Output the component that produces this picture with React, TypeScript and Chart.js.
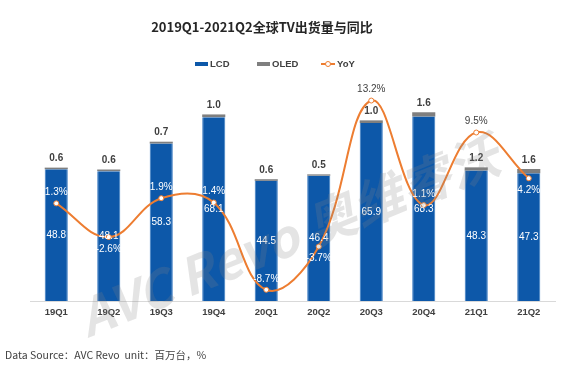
import { useEffect, useRef } from 'react';
import { Chart, registerables } from 'chart.js';

Chart.register(...registerables);

const categories = ['19Q1', '19Q2', '19Q3', '19Q4', '20Q1', '20Q2', '20Q3', '20Q4', '21Q1', '21Q2'];
const lcdValues = [48.8, 48.1, 58.3, 68.1, 44.5, 46.4, 65.9, 68.3, 48.3, 47.3];
const oledValues = [0.6, 0.6, 0.7, 1.0, 0.6, 0.5, 1.0, 1.6, 1.2, 1.6];
const yoyValues = [1.3, -2.6, 1.9, 1.4, -8.7, -3.7, 13.2, 1.1, 9.5, 4.2];

const titleText = '2019Q1-2021Q2全球TV出货量与同比';
const footerText = 'Data Source：AVC Revo  unit：百万台，%';
const watermarkText = 'AVC Revo 奥维睿沃';

// label placement for YoY values (true = below the point)
const yoyBelow = [false, true, false, false, false, true, false, false, false, true];

const BLUE = '#0D58A9';
const GRAY = '#7F7F7F';
const ORANGE = '#ED7D31';
const DARK = '#404040';
const LATIN = '"Liberation Sans", Arial, sans-serif';
const CJK = '"Noto Sans CJK SC", "Liberation Sans", sans-serif';

const decorPlugin = {
  id: 'decor',
  afterDatasetsDraw(chart: any) {
    const ctx = chart.ctx;
    const lcdMeta = chart.getDatasetMeta(0);
    const oledMeta = chart.getDatasetMeta(1);
    const yoyMeta = chart.getDatasetMeta(2);
    ctx.save();
    ctx.textAlign = 'center';
    ctx.textBaseline = 'middle';
    categories.forEach((_, i) => {
      const lcdBar = lcdMeta.data[i];
      const oledBar = oledMeta.data[i];
      ctx.font = `10px ${LATIN}`;
      ctx.fillStyle = '#FFFFFF';
      ctx.fillText(lcdValues[i].toFixed(1), lcdBar.x, (lcdBar.y + lcdBar.base) / 2);
      ctx.font = `bold 10px ${LATIN}`;
      ctx.fillStyle = DARK;
      ctx.fillText(oledValues[i].toFixed(1), oledBar.x, oledBar.y - 9);
      const pt = yoyMeta.data[i];
      const ly = yoyBelow[i] ? pt.y + 12 : pt.y - 11;
      const inside = ly > oledBar.y + 4;
      ctx.font = `10px ${LATIN}`;
      ctx.fillStyle = inside ? '#FFFFFF' : DARK;
      ctx.fillText(yoyValues[i].toFixed(1) + '%', pt.x, ly);
    });
    ctx.restore();
  },
  afterDraw(chart: any) {
    const ctx = chart.ctx;
    ctx.save();
    ctx.textAlign = 'center';
    ctx.textBaseline = 'middle';
    ctx.fillStyle = '#262626';
    ctx.font = `bold 13px ${CJK}`;
    ctx.fillText(titleText, 262, 27);

    ctx.textAlign = 'left';
    ctx.font = `bold 9.5px ${LATIN}`;
    const ly = 64;
    ctx.fillStyle = BLUE;
    ctx.fillRect(195, ly - 2, 13, 4);
    ctx.fillStyle = DARK;
    ctx.fillText('LCD', 210, ly);
    ctx.fillStyle = GRAY;
    ctx.fillRect(257, ly - 2, 13, 4);
    ctx.fillStyle = DARK;
    ctx.fillText('OLED', 272, ly);
    ctx.strokeStyle = ORANGE;
    ctx.lineWidth = 2;
    ctx.beginPath();
    ctx.moveTo(321, ly);
    ctx.lineTo(335, ly);
    ctx.stroke();
    ctx.fillStyle = '#FFFFFF';
    ctx.lineWidth = 1;
    ctx.beginPath();
    ctx.arc(328, ly, 2.5, 0, Math.PI * 2);
    ctx.fill();
    ctx.stroke();
    ctx.fillStyle = DARK;
    ctx.fillText('YoY', 337, ly);

    ctx.font = `10.5px ${CJK}`;
    ctx.fillStyle = DARK;
    ctx.fillText(footerText, 5, 355);

    ctx.translate(88, 338);
    ctx.rotate((-22 * Math.PI) / 180);
    ctx.font = `bold italic 51px ${CJK}`;
    ctx.fillStyle = 'rgba(130,130,130,0.22)';
    ctx.textBaseline = 'alphabetic';
    ctx.fillText(watermarkText, 0, 0);
    ctx.restore();
  },
};

export default function App() {
  const ref = useRef<HTMLCanvasElement | null>(null);
  useEffect(() => {
    if (!ref.current) return;
    const chart = new Chart(ref.current, {
      type: 'bar',
      data: {
        labels: categories,
        datasets: [
          {
            type: 'bar',
            label: 'LCD',
            data: lcdValues,
            backgroundColor: BLUE,
            borderColor: '#3C7CC2',
            borderWidth: { left: 1, right: 1, top: 0, bottom: 0 },
            yAxisID: 'y',
            stack: 's',
            order: 2,
            categoryPercentage: 1,
            barPercentage: 0.44,
          },
          {
            type: 'bar',
            label: 'OLED',
            data: oledValues,
            backgroundColor: GRAY,
            yAxisID: 'y',
            stack: 's',
            order: 2,
            categoryPercentage: 1,
            barPercentage: 0.44,
          },
          {
            type: 'line',
            label: 'YoY',
            data: yoyValues,
            yAxisID: 'y1',
            borderColor: ORANGE,
            borderWidth: 2,
            tension: 0.4,
            pointRadius: 2.5,
            pointBackgroundColor: '#FFFFFF',
            pointBorderColor: ORANGE,
            pointBorderWidth: 1,
            order: 0,
          },
        ] as any,
      },
      options: {
        animation: false,
        responsive: false,
        devicePixelRatio: 1,
        layout: { padding: { left: 30, right: 25, top: 85, bottom: 44 } },
        plugins: {
          legend: { display: false },
          title: { display: false },
          tooltip: { enabled: false },
        },
        scales: {
          x: {
            stacked: true,
            grid: { display: false, drawTicks: false },
            border: { display: true, color: '#D9D9D9', width: 1 },
            ticks: {
              color: DARK,
              font: { family: LATIN, size: 9.5, weight: 'bold' },
              padding: 6,
            },
            afterFit: (scale: any) => {
              scale.height = 30;
            },
          },
          y: {
            stacked: true,
            display: false,
            min: 0,
            max: 80,
          },
          y1: {
            display: false,
            min: -10,
            max: 15,
          },
        },
      } as any,
      plugins: [decorPlugin],
    });
    return () => chart.destroy();
  }, []);
  return (
    <div style={{ position: 'absolute', left: 0, top: 0, width: 580, height: 375, background: '#FFFFFF' }}>
      <canvas ref={ref} width={580} height={375} />
    </div>
  );
}
